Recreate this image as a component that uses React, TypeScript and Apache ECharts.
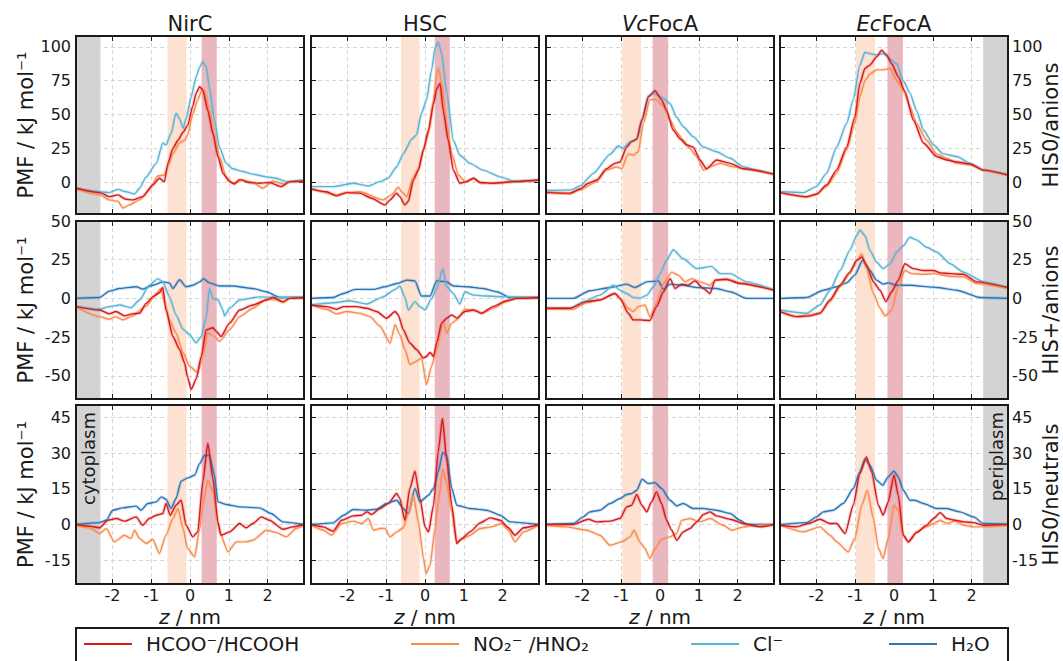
import React, { useEffect, useRef } from 'react';
import * as echarts from 'echarts';

// ---------------- data ----------------
const panelTitles = ['NirC', 'HSC', 'VcFocA', 'EcFocA'];
const rowNames = ['HIS0/anions', 'HIS+/anions', 'HIS0/neutrals'];
const yAxisName = 'PMF / kJ mol⁻¹';
const xAxisName = 'z / nm';
const zTicks = [-2, -1, 0, 1, 2];
const zRange = [-2.94, 2.94];
const yTicks = [[0, 25, 50, 75, 100], [-50, -25, 0, 25, 50], [-15, 0, 15, 30, 45]];
const yRanges = [[-23.4, 108], [-65, 50], [-25, 50.2]];
const orangeBand = [[-0.58, -0.09], [-0.62, -0.14], [-0.97, -0.49], [-0.98, -0.49]];
const redBand = [[0.3, 0.69], [0.25, 0.64], [-0.19, 0.21], [-0.17, 0.23]];
const cytoplasmBand = [-2.94, -2.31];
const periplasmBand = [2.3, 2.94];
const legendNames = ['HCOO⁻/HCOOH', 'NO₂⁻ /HNO₂', 'Cl⁻', 'H₂O'];

// Row 1: HIS0 / anions
const nircHis0Cl = [[-2.94,-4.4],[-2.33,-7],[-2.08,-7.6],[-1.86,-5.2],[-1.65,-7],[-1.43,-8.6],[-1.3,-4.4],[-1.13,4],[-0.87,14],[-0.7,29],[-0.62,27.5],[-0.49,36],[-0.36,51],[-0.27,47],[-0.18,40],[-0.1,47],[0.03,63],[0.16,78],[0.25,85],[0.33,89],[0.42,85],[0.5,70],[0.63,46],[0.76,26],[0.93,14],[1.1,10],[1.36,8],[1.62,6],[1.97,4],[2.22,3],[2.48,0.5],[2.94,1.7]];
const nircHis0Hcoo = [[-2.94,-4.4],[-2.33,-7.6],[-2.08,-10.6],[-1.86,-9.3],[-1.65,-12.5],[-1.48,-13],[-1.22,-10.6],[-0.96,-2],[-0.79,3],[-0.66,0.5],[-0.57,14],[-0.44,25],[-0.31,31],[-0.18,37],[-0.06,42],[0.07,56],[0.16,66],[0.25,70.5],[0.33,68],[0.46,53],[0.59,36],[0.72,19],[0.85,6.6],[1.02,0.5],[1.15,-1.2],[1.28,2],[1.54,-0.2],[1.79,-0.7],[2.05,-0.2],[2.35,-3.2],[2.57,0.5],[2.94,1]];
const nircHis0No2 = [[-2.94,-5],[-2.33,-9.3],[-2.08,-13],[-1.86,-14],[-1.73,-19],[-1.56,-16.7],[-1.3,-13],[-1.05,-5.6],[-0.83,4.7],[-0.66,5.4],[-0.57,11.5],[-0.44,21],[-0.27,29],[-0.14,31],[-0.06,35],[0.07,50],[0.2,61],[0.31,68.5],[0.37,68],[0.5,53],[0.63,35],[0.76,19],[0.93,4],[1.1,-0.7],[1.32,1.7],[1.62,-0.2],[1.88,-4.4],[2.14,1],[2.4,-1.2],[2.66,0.5],[2.94,0.5]];
const hscHis0Cl = [[-2.94,-3.2],[-2.37,-3.2],[-1.85,-0.7],[-1.46,-2.7],[-1.16,0.5],[-0.95,3],[-0.73,11.5],[-0.56,21],[-0.34,32],[-0.22,35],[-0.09,51],[0.04,61],[0.17,83],[0.26,99],[0.34,103.7],[0.43,95],[0.56,66],[0.73,31],[0.9,20],[1.16,14],[1.5,9],[1.94,4],[2.28,1],[2.94,1.7]];
const hscHis0Hcoo = [[-2.94,-5],[-2.54,-7],[-2.28,-10],[-2.02,-7.6],[-1.68,-8],[-1.38,-11.8],[-1.03,-16.7],[-0.9,-13],[-0.73,-8],[-0.65,-10.6],[-0.52,-16.7],[-0.43,-14],[-0.3,1.7],[-0.17,9],[-0.04,24],[0.09,38.6],[0.22,58],[0.3,69],[0.39,73],[0.47,53],[0.6,31],[0.73,9],[0.9,-0.7],[1.08,0.5],[1.25,3],[1.42,-0.2],[1.76,-0.7],[2.28,0.5],[2.94,1.7]];
const hscHis0No2 = [[-2.94,-4.4],[-2.28,-9.3],[-2.02,-7.6],[-1.68,-7],[-1.08,-13],[-0.86,-9.3],[-0.69,-3.7],[-0.6,-7],[-0.47,-10.6],[-0.3,4],[-0.17,10],[-0.04,24],[0.09,36],[0.22,61],[0.3,80],[0.35,84],[0.43,73],[0.56,43.5],[0.69,21],[0.86,5.4],[1.03,0.5],[1.25,3],[1.46,-0.7],[1.76,-0.7],[2.37,0.5],[2.94,1.7]];
const vcHis0Cl = [[-2.94,-6],[-2.28,-5.6],[-2.06,-2.7],[-1.72,6.6],[-1.29,20.6],[-1.08,26.8],[-0.95,25],[-0.77,30],[-0.6,32],[-0.43,48],[-0.3,64],[-0.17,65.6],[-0.04,64],[0.09,62],[0.26,58],[0.43,48],[0.6,41],[0.86,33.7],[1.12,26],[1.46,22.6],[1.81,17.7],[2.15,11.5],[2.49,9],[2.94,6]];
const vcHis0Hcoo = [[-2.94,-7.6],[-2.32,-8],[-2.06,-5],[-1.85,-0.7],[-1.63,1.7],[-1.38,10],[-1.16,14],[-1.03,15],[-0.86,26],[-0.73,30],[-0.6,31.7],[-0.47,46],[-0.3,63],[-0.13,67.6],[0.04,61],[0.17,53],[0.34,38.6],[0.52,32],[0.69,27.5],[0.86,26],[1.03,16.5],[1.2,10],[1.46,16.5],[1.81,14],[2.15,10],[2.94,6]];
const vcHis0No2 = [[-2.94,-7],[-2.32,-8.6],[-2.06,-5.6],[-1.63,0.5],[-1.38,9],[-1.12,11.5],[-0.99,10],[-0.82,21],[-0.69,20],[-0.56,22.6],[-0.43,43.5],[-0.26,61],[-0.09,61],[0.09,56],[0.26,46],[0.43,37],[0.6,31],[0.77,25],[0.95,19],[1.12,9],[1.29,11.5],[1.55,14],[1.89,11.5],[2.24,9.5],[2.94,6]];
const ecHis0Cl = [[-2.94,-7],[-2.34,-7.6],[-2,-3.2],[-1.74,6.6],[-1.48,26],[-1.22,43.5],[-1.05,61],[-0.88,86.5],[-0.75,96],[-0.62,95],[-0.45,94],[-0.28,95],[-0.1,91],[0.07,87.5],[0.24,75],[0.41,66],[0.58,53],[0.76,38.6],[1.02,27.5],[1.27,21],[1.62,19],[1.96,14],[2.31,9],[2.94,5.4]];
const ecHis0Hcoo = [[-2.94,-7.6],[-2.25,-10.6],[-2,-8.8],[-1.74,-2],[-1.48,9],[-1.22,26],[-1.01,48],[-0.88,73],[-0.75,84],[-0.62,86.5],[-0.45,92.6],[-0.32,97.5],[-0.19,94],[-0.06,87.5],[0.11,78],[0.28,67],[0.5,46],[0.76,29],[1.1,19],[1.36,16.5],[1.62,15],[1.96,13.5],[2.31,9],[2.94,5.4]];
const ecHis0No2 = [[-2.94,-7.6],[-2.25,-11],[-2,-8.8],[-1.74,-3.2],[-1.48,6.6],[-1.22,24],[-1.01,43.5],[-0.88,63],[-0.75,75],[-0.62,80],[-0.45,83],[-0.28,83],[-0.1,84],[0.07,75],[0.24,68],[0.41,56],[0.58,43.5],[0.84,31],[1.1,21],[1.36,17.7],[1.62,14],[1.96,13],[2.31,9],[2.94,5.4]];

// Row 2: HIS+ / anions
const nircHisPH2o = [[-2.94,0],[-2.33,0.6],[-2.08,4.7],[-1.82,6.4],[-1.39,7.5],[-1.22,6],[-0.96,8.5],[-0.7,10.7],[-0.53,10],[-0.44,6.4],[-0.27,12],[-0.1,7.5],[0.07,8.5],[0.25,10.7],[0.35,12.8],[0.5,10],[0.76,8],[1.1,8],[1.62,6.4],[1.97,4.3],[2.31,0.6],[2.94,0.6]];
const nircHisPCl = [[-2.94,-5.3],[-2.33,-7],[-2.08,-5.3],[-1.82,-4.3],[-1.52,-6],[-1.3,-1],[-1.05,8.5],[-0.83,12.8],[-0.7,10.7],[-0.53,1],[-0.36,-10.7],[-0.18,-20],[-0.01,-23.5],[0.16,-28.8],[0.29,-24.6],[0.42,-11.8],[0.5,6.4],[0.59,0],[0.72,-1],[0.85,-7.5],[0.89,-11.3],[1.02,-6.4],[1.28,-1],[1.79,1],[2.4,0.6],[2.94,1]];
const nircHisPHcoo = [[-2.94,-5.3],[-2.33,-7.5],[-2.08,-10],[-1.91,-8.5],[-1.69,-11.3],[-1.48,-10],[-1.3,-9.6],[-1.13,-3.2],[-0.96,1],[-0.79,3.6],[-0.7,7],[-0.62,-7.5],[-0.44,-24.6],[-0.27,-33],[-0.14,-41.7],[-0.06,-51],[0.03,-58.8],[0.16,-52],[0.29,-37.4],[0.42,-20.3],[0.59,-19],[0.68,-21.4],[0.8,-24.6],[1.02,-16],[1.28,-7.5],[1.62,-4.3],[1.97,-1],[2.14,0.6],[2.4,-2.1],[2.57,0],[2.94,0.6]];
const nircHisPNo2 = [[-2.94,-5.6],[-2.33,-11.8],[-2.08,-13.5],[-1.91,-11.8],[-1.73,-13.9],[-1.48,-11.3],[-1.13,-5],[-0.87,3.2],[-0.75,6.4],[-0.66,-2],[-0.53,-13.9],[-0.36,-22.4],[-0.18,-35],[-0.01,-43.8],[0.2,-48],[0.33,-37.4],[0.46,-22.4],[0.63,-24.6],[0.76,-27.8],[1.02,-20.3],[1.28,-11.8],[1.62,-6.4],[1.97,-0.6],[2.23,-1],[2.4,-2.8],[2.57,0],[2.94,0.6]];
const hscHisPH2o = [[-2.94,0],[-2.37,0.6],[-2.1,3.2],[-1.8,5.8],[-1.33,5.8],[-1.03,7.5],[-0.73,9.6],[-0.47,11.8],[-0.26,11.3],[-0.09,1.5],[0.13,1.5],[0.3,11.3],[0.56,10.7],[0.73,8],[1.08,7.5],[1.5,6.4],[1.85,4.3],[2.19,0.6],[2.94,0.6]];
const hscHisPCl = [[-2.94,-4.3],[-2.37,-2.8],[-1.94,-1.5],[-1.5,-3.6],[-1.08,1],[-0.77,5.8],[-0.65,8],[-0.52,1],[-0.43,-7.5],[-0.26,-2.1],[-0.13,-5.3],[0,-7.5],[0.17,0],[0.3,6.4],[0.46,19],[0.56,7.5],[0.73,3.2],[0.9,-3.6],[1.03,4.3],[1.25,2.1],[1.59,1.5],[2.1,1],[2.94,0.6]];
const hscHisPHcoo = [[-2.94,-4.3],[-2.54,-5.3],[-2.28,-7],[-2.1,-5.3],[-1.76,-5.3],[-1.5,-6.4],[-1.25,-8.5],[-0.99,-12.8],[-0.77,-8.5],[-0.69,-10.7],[-0.56,-20.3],[-0.39,-28.8],[-0.22,-33],[-0.04,-38.5],[0.04,-37.5],[0.13,-35],[0.22,-37.5],[0.3,-28.8],[0.43,-16],[0.56,-12.8],[0.69,-10.7],[0.82,-12.8],[1.03,-8.5],[1.25,-7.5],[1.46,-9.6],[1.76,-5.3],[2.1,-1.5],[2.37,0],[2.94,0.6]];
const hscHisPNo2 = [[-2.94,-4.3],[-2.54,-7],[-2.28,-10],[-2.02,-8.5],[-1.68,-9.6],[-1.42,-11.8],[-1.16,-18],[-0.9,-28.8],[-0.77,-17],[-0.65,-23.5],[-0.52,-33],[-0.39,-42.7],[-0.22,-40.6],[-0.09,-38.5],[0.04,-55.6],[0.17,-43.8],[0.3,-33],[0.46,-15],[0.56,-22.4],[0.69,-16],[0.82,-13.9],[1.03,-7],[1.25,-7.5],[1.46,-9.6],[1.76,-6.4],[2.1,-2.1],[2.37,0],[2.94,0.6]];
const vcHisPH2o = [[-2.94,0],[-2.24,0],[-1.81,4.9],[-1.29,7],[-0.86,9.2],[-0.65,7],[-0.34,10.7],[-0.04,11.3],[0.09,5.8],[0.26,9.2],[0.6,8.5],[0.95,7],[1.46,6.4],[1.81,4.3],[2.24,0],[2.94,0]];
const vcHisPCl = [[-2.94,-6.4],[-2.32,-6.4],[-1.98,-2.1],[-1.55,2.1],[-1.2,8.5],[-1.03,5.3],[-0.86,3.2],[-0.69,0.6],[-0.52,0],[-0.34,2.1],[-0.17,7.5],[0,16],[0.17,24.6],[0.34,31.4],[0.6,25.6],[0.95,19.2],[1.33,20.7],[1.55,16],[1.81,16],[2.24,10.7],[2.94,5.3]];
const vcHisPHcoo = [[-2.94,-6.4],[-2.32,-6.4],[-1.89,-2.1],[-1.55,-1],[-1.16,3.2],[-1.03,0],[-0.82,-9.6],[-0.69,-13.9],[-0.52,-13.9],[-0.26,-14.3],[-0.09,-5.3],[0.09,4.3],[0.26,12.8],[0.39,6.4],[0.56,9.2],[0.73,8.5],[0.9,11.3],[1.12,6.4],[1.29,3.2],[1.42,11.8],[1.72,12.2],[2.06,9.6],[2.94,5.3]];
const vcHisPNo2 = [[-2.94,-7],[-2.24,-7],[-1.89,-2.8],[-1.55,-1],[-1.16,3.2],[-0.99,-1],[-0.82,-6.4],[-0.69,-8.5],[-0.56,-5.3],[-0.39,-4.3],[-0.26,-11.8],[-0.09,-3.2],[0.09,9.6],[0.3,17],[0.47,15],[0.65,10.7],[0.82,12.8],[1.03,10.7],[1.29,8.5],[1.42,11.8],[1.72,12.8],[2.06,10],[2.94,5.3]];
const ecHisPH2o = [[-2.94,0],[-2.25,0.6],[-1.82,5.3],[-1.48,7.5],[-1.22,10],[-1.01,15],[-0.81,24.6],[-0.62,18],[-0.45,11.8],[-0.28,9.2],[-0.15,10],[0.07,8.5],[0.41,8.5],[1.1,7],[1.62,5.3],[2.22,0.6],[2.94,0]];
const ecHisPCl = [[-2.94,-7.5],[-2.25,-9.6],[-1.91,-4.3],[-1.65,5.3],[-1.39,18],[-1.14,31],[-0.96,40.6],[-0.88,44.2],[-0.75,40.6],[-0.62,31],[-0.45,23.5],[-0.28,19.2],[-0.1,22.4],[0.07,30],[0.24,34],[0.41,39.5],[0.58,37.8],[0.84,33],[1.1,30],[1.45,22.4],[1.79,17],[2.31,10.7],[2.94,7]];
const ecHisPHcoo = [[-2.94,-8.5],[-2.51,-11.8],[-2.17,-11.3],[-1.91,-9.6],[-1.65,-1],[-1.39,8.5],[-1.14,17],[-0.96,24.6],[-0.83,26.7],[-0.71,21.4],[-0.53,10.7],[-0.36,5.3],[-0.21,-2.1],[-0.06,4.3],[0.11,11.8],[0.28,22.4],[0.5,19.2],[0.76,18],[1.02,18],[1.19,16.5],[1.45,16],[1.79,15.6],[2.13,10.7],[2.94,7]];
const ecHisPNo2 = [[-2.94,-8.5],[-2.51,-11.8],[-1.91,-9.6],[-1.65,-2.1],[-1.39,7.5],[-1.14,16],[-0.96,24.6],[-0.83,28.8],[-0.71,19.2],[-0.53,3.2],[-0.36,-6.4],[-0.23,-11.3],[-0.06,-7.5],[0.11,7.5],[0.28,18],[0.46,16],[0.76,15.6],[1.02,16],[1.45,14.3],[1.79,13.9],[2.13,9.6],[2.94,6.4]];

// Row 3: HIS0 / neutrals
const nircNeuH2o = [[-2.94,0],[-2.33,0.8],[-2.16,1.8],[-1.99,6],[-1.73,7],[-1.39,7.7],[-1.26,6],[-1.09,8.8],[-0.87,9.5],[-0.74,11.6],[-0.62,10.6],[-0.49,6.7],[-0.36,10.9],[-0.23,18.2],[-0.06,19.6],[0.12,20.7],[0.25,25.6],[0.37,29],[0.5,29],[0.63,20.7],[0.72,9.5],[0.93,8.4],[1.28,7.4],[1.79,7],[2.09,4.6],[2.4,1.1],[2.94,0]];
const nircNeuHcoo = [[-2.94,0],[-2.59,-0.7],[-2.33,-1.4],[-2.12,1.8],[-1.9,2.5],[-1.69,1.4],[-1.39,3.2],[-1.22,-0.3],[-1.05,2.5],[-0.87,3.9],[-0.7,4.6],[-0.62,8.8],[-0.51,3.9],[-0.36,8.1],[-0.23,10.2],[-0.1,-0.3],[0.07,-5.2],[0.2,-3.1],[0.33,17.9],[0.46,34],[0.59,19.3],[0.72,1.1],[0.8,-4.5],[1.02,-3.1],[1.28,0.4],[1.45,-1.4],[1.62,0.4],[1.84,3.2],[2.05,1.8],[2.4,-2],[2.65,-1],[2.94,0]];
const nircNeuNo2 = [[-2.94,-0.3],[-2.59,-1.4],[-2.33,-3.8],[-2.16,-1.7],[-1.95,-7.3],[-1.69,-4.5],[-1.52,-5.9],[-1.43,-2.4],[-1.3,-5.9],[-1.13,-8],[-0.96,-6.2],[-0.79,-12.2],[-0.62,-4.5],[-0.44,2.5],[-0.31,6.7],[-0.18,-1.7],[-0.06,-10.1],[0.12,-13.6],[0.25,-1.7],[0.33,8.1],[0.46,18.6],[0.59,13.7],[0.76,-3.1],[0.98,-11.5],[1.19,-7.3],[1.45,-7.3],[1.62,-6.6],[1.97,-2.4],[2.23,-3.4],[2.48,-5.2],[2.74,-1.7],[2.94,-0.3]];
const hscNeuH2o = [[-2.94,0],[-2.37,0.7],[-2.1,3.9],[-1.85,6.3],[-1.5,6],[-1.25,6.4],[-0.99,8.8],[-0.73,10.2],[-0.56,6.7],[-0.43,4.6],[-0.26,15.1],[-0.13,9.5],[0.09,12.3],[0.22,15.1],[0.34,22.1],[0.46,30.3],[0.56,29],[0.69,15.1],[0.82,8.1],[1.16,6.7],[1.59,6],[1.94,3.9],[2.19,1.1],[2.94,0]];
const hscNeuHcoo = [[-2.94,0],[-2.62,-1],[-2.37,-2.8],[-2.15,1.8],[-1.85,3.6],[-1.63,3.9],[-1.5,5.3],[-1.38,4.2],[-1.16,6.7],[-0.95,8.8],[-0.73,13],[-0.65,10.9],[-0.52,1.8],[-0.39,15.1],[-0.26,22.4],[-0.13,10.9],[0,-1],[0.09,-3.1],[0.22,8.1],[0.34,30.5],[0.45,44.5],[0.56,27],[0.69,8.1],[0.82,-8],[0.95,-5.9],[1.16,-3.1],[1.42,0.7],[1.68,2.8],[1.94,1.8],[2.15,-1.4],[2.32,-4.5],[2.54,-1.4],[2.94,0]];
const hscNeuNo2 = [[-2.94,-0.3],[-2.62,-2.4],[-2.41,-4.5],[-2.15,0.4],[-1.85,1.4],[-1.63,0.4],[-1.46,2.5],[-1.33,-2.4],[-1.16,-1.7],[-1.03,-1.7],[-0.9,-5.2],[-0.73,-3.1],[-0.56,-1.4],[-0.43,4.6],[-0.3,12.3],[-0.17,1.1],[-0.04,-14.3],[0.03,-20.6],[0.13,-17.1],[0.26,-1.7],[0.34,9.5],[0.46,23.2],[0.56,17.2],[0.69,5.3],[0.82,-7.3],[0.99,-5.9],[1.16,-4.5],[1.42,-1.7],[1.72,-1],[1.98,0.4],[2.15,-2.4],[2.32,-7.3],[2.54,-3.1],[2.94,-0.3]];
const vcNeuH2o = [[-2.94,0],[-2.24,0.4],[-1.98,3.2],[-1.81,5.3],[-1.55,6],[-1.29,8.8],[-1.03,10.9],[-0.86,12.6],[-0.73,13],[-0.6,14.4],[-0.46,19],[-0.3,17.2],[-0.13,17.6],[0.04,15.1],[0.26,10.2],[0.43,7.8],[0.6,8.8],[0.86,6.7],[1.12,6.7],[1.46,6],[1.81,4.6],[2.06,1.8],[2.24,0],[2.94,0]];
const vcNeuHcoo = [[-2.94,0],[-2.24,0],[-1.85,2.2],[-1.63,1.1],[-1.29,1.4],[-1.03,2.5],[-0.86,7.4],[-0.73,8.1],[-0.6,12.6],[-0.47,8.1],[-0.34,5.3],[-0.22,9.5],[-0.09,13.7],[0.04,8.8],[0.17,1.8],[0.3,-2.4],[0.43,-6.6],[0.6,-3.1],[0.77,-1.7],[0.95,1.1],[1.12,4.2],[1.29,5.3],[1.46,3.6],[1.81,2.2],[2.15,0.4],[2.58,-1],[2.94,0]];
const vcNeuNo2 = [[-2.94,-0.3],[-2.41,-1],[-1.89,-2.4],[-1.55,-4.5],[-1.29,-8.7],[-0.99,-7.3],[-0.77,-5.2],[-0.67,-2.4],[-0.52,-7.3],[-0.39,-10.1],[-0.26,-14.3],[-0.13,-10.1],[0.04,-6.2],[0.26,-5.2],[0.43,-3.8],[0.56,1.8],[0.77,2.5],[1.03,1.1],[1.29,2.5],[1.63,-0.3],[1.85,-2.4],[2.15,-1],[2.58,-0.3],[2.94,0]];
const ecNeuH2o = [[-2.94,0],[-2.25,0.8],[-2,3.2],[-1.82,5.3],[-1.57,6],[-1.31,8.8],[-1.05,15.1],[-0.88,22.1],[-0.75,27.5],[-0.62,24.9],[-0.45,18.6],[-0.29,16.5],[-0.15,20],[0,22.4],[0.11,20],[0.24,14.4],[0.41,10.2],[0.54,10.2],[0.76,8.8],[1.1,6.7],[1.36,6.7],[1.7,5.3],[2.05,3.2],[2.31,0.4],[2.94,0]];
const ecNeuHcoo = [[-2.94,-0.3],[-2.51,-1],[-2.21,0.4],[-1.91,2.2],[-1.65,0.4],[-1.48,0.4],[-1.26,-3.8],[-1.05,8.1],[-0.88,21.4],[-0.71,28.4],[-0.58,22.1],[-0.4,8.1],[-0.28,3.9],[-0.15,9.5],[0,20.7],[0.11,12.3],[0.24,-4.5],[0.37,-7.3],[0.58,-3.4],[0.84,-0.3],[1.02,2.5],[1.19,5],[1.36,2.5],[1.57,1.8],[1.79,1.1],[2.05,0.8],[2.31,-0.3],[2.94,0]];
const ecNeuNo2 = [[-2.94,-0.3],[-2.34,-3.1],[-1.91,-1],[-1.65,-4.5],[-1.48,-7.3],[-1.18,-11.5],[-1.01,-5.9],[-0.83,8.1],[-0.69,14.4],[-0.53,2.5],[-0.4,-10.1],[-0.28,-14.3],[-0.15,-5.9],[0,8.1],[0.11,6],[0.24,-4.5],[0.37,-7.3],[0.58,-3.1],[0.84,-1],[1.02,0.4],[1.19,1.8],[1.36,0.4],[1.57,1.4],[1.79,-0.3],[2.05,-1],[2.31,-1],[2.94,-0.3]];

const panelData: any[][] = [
  [
    { cl: nircHis0Cl, no2: nircHis0No2, hcoo: nircHis0Hcoo },
    { cl: hscHis0Cl, no2: hscHis0No2, hcoo: hscHis0Hcoo },
    { cl: vcHis0Cl, no2: vcHis0No2, hcoo: vcHis0Hcoo },
    { cl: ecHis0Cl, no2: ecHis0No2, hcoo: ecHis0Hcoo },
  ],
  [
    { h2o: nircHisPH2o, cl: nircHisPCl, no2: nircHisPNo2, hcoo: nircHisPHcoo },
    { h2o: hscHisPH2o, cl: hscHisPCl, no2: hscHisPNo2, hcoo: hscHisPHcoo },
    { h2o: vcHisPH2o, cl: vcHisPCl, no2: vcHisPNo2, hcoo: vcHisPHcoo },
    { h2o: ecHisPH2o, cl: ecHisPCl, no2: ecHisPNo2, hcoo: ecHisPHcoo },
  ],
  [
    { h2o: nircNeuH2o, no2: nircNeuNo2, hcoo: nircNeuHcoo },
    { h2o: hscNeuH2o, no2: hscNeuNo2, hcoo: hscNeuHcoo },
    { h2o: vcNeuH2o, no2: vcNeuNo2, hcoo: vcNeuHcoo },
    { h2o: ecNeuH2o, no2: ecNeuNo2, hcoo: ecNeuHcoo },
  ],
];

// ---------------- layout / style ----------------
const FONT = 'DejaVu Sans';
const INK = '#1a1a1a';
const COLORS: Record<string, string> = { hcoo: '#d7191c', no2: '#f98c4f', cl: '#58b5d6', h2o: '#2a76b8' };
const SPECIES_ORDER = ['h2o', 'cl', 'no2', 'hcoo'];
const GRID_LEFT = [76, 311, 546, 780];
const GRID_TOP = [36, 221, 405];
const GRID_W = 228;
const GRID_H = [178, 178, 179];

function buildOption() {
  const grid: any[] = [];
  const xAxis: any[] = [];
  const yAxis: any[] = [];
  const series: any[] = [];
  const graphic: any[] = [];

  const tick = (vals: number[]) => ({
    show: true, inside: true, length: 5, customValues: vals,
    lineStyle: { color: INK, width: 1 },
  });
  const split = { show: true, lineStyle: { color: '#d6d6d6', type: [4, 3], width: 1 } };
  const noLine = { show: false, onZero: false };

  for (let r = 0; r < 3; r++) {
    for (let c = 0; c < 4; c++) {
      const gi = r * 4 + c;
      grid.push({ left: GRID_LEFT[c], top: GRID_TOP[r], width: GRID_W, height: GRID_H[r] });
      const xBase = { type: 'value', gridIndex: gi, min: zRange[0], max: zRange[1], axisLine: noLine };
      xAxis.push({
        ...xBase, position: 'bottom',
        axisTick: tick(zTicks),
        axisLabel: { show: r === 2, customValues: zTicks, fontSize: 16, lineHeight: 15, fontFamily: FONT, color: INK, margin: 4 },
        splitLine: split,
      });
      xAxis.push({
        ...xBase, position: 'top',
        axisTick: tick(zTicks), axisLabel: { show: false }, splitLine: { show: false },
      });
      const yBase = { type: 'value', gridIndex: gi, min: yRanges[r][0], max: yRanges[r][1], axisLine: noLine };
      yAxis.push({
        ...yBase, position: 'left',
        axisTick: tick(yTicks[r]),
        axisLabel: { show: c === 0, customValues: yTicks[r], fontSize: 16, fontFamily: FONT, color: INK, margin: 5 },
        splitLine: split,
      });
      yAxis.push({
        ...yBase, position: 'right',
        axisTick: tick(yTicks[r]),
        axisLabel: { show: c === 3, customValues: yTicks[r], fontSize: 16, fontFamily: FONT, color: INK, margin: 4 },
        splitLine: { show: false },
      });

      const bands: any[] = [];
      if (c === 0) bands.push([{ xAxis: cytoplasmBand[0], itemStyle: { color: '#d3d3d3' } }, { xAxis: cytoplasmBand[1] }]);
      if (c === 3) bands.push([{ xAxis: periplasmBand[0], itemStyle: { color: '#d3d3d3' } }, { xAxis: periplasmBand[1] }]);
      bands.push([{ xAxis: orangeBand[c][0], itemStyle: { color: '#fde2d1' } }, { xAxis: orangeBand[c][1] }]);
      bands.push([{ xAxis: redBand[c][0], itemStyle: { color: '#ebb7be' } }, { xAxis: redBand[c][1] }]);
      series.push({
        type: 'line', xAxisIndex: 2 * gi, yAxisIndex: 2 * gi, data: [], silent: true, z: 1,
        markArea: { silent: true, data: bands },
      });

      const pd = panelData[r][c];
      for (const key of SPECIES_ORDER) {
        if (!pd[key]) continue;
        series.push({
          type: 'line', xAxisIndex: 2 * gi, yAxisIndex: 2 * gi, data: pd[key], showSymbol: false, symbol: 'none',
          smooth: 0.2, smoothMonotone: 'x',
          silent: true, z: 3, lineStyle: { color: COLORS[key], width: 3.4, opacity: 0.2 },
        });
        series.push({
          type: 'line', xAxisIndex: 2 * gi, yAxisIndex: 2 * gi, data: pd[key], showSymbol: false, symbol: 'none',
          smooth: 0.2, smoothMonotone: 'x',
          silent: true, z: 4, lineStyle: { color: COLORS[key], width: 1.4 },
        });
      }

      graphic.push({
        type: 'rect', z: 100, silent: true,
        shape: { x: GRID_LEFT[c], y: GRID_TOP[r], width: GRID_W, height: GRID_H[r] },
        style: { fill: 'none', stroke: INK, lineWidth: 2 },
      });
    }
  }

  // column titles and x-axis names
  for (let c = 0; c < 4; c++) {
    const cx = GRID_LEFT[c] + GRID_W / 2;
    const t = panelTitles[c];
    const italicPart = t.startsWith('Vc') || t.startsWith('Ec') ? t.slice(0, 2) : '';
    const rest = italicPart ? t.slice(2) : t;
    graphic.push({
      type: 'text', x: cx, y: 24, z: 100,
      style: {
        text: (italicPart ? `{i|${italicPart}}` : '') + `{n|${rest}}`,
        rich: {
          i: { fontStyle: 'italic', fontSize: 21, fontFamily: FONT, fill: INK },
          n: { fontSize: 21, fontFamily: FONT, fill: INK },
        },
        font: `21px ${FONT}`, fill: INK, textAlign: 'center', textVerticalAlign: 'middle',
      },
    });
    const xn = xAxisName.split(' ');
    graphic.push({
      type: 'text', x: cx, y: 617, z: 100,
      style: {
        text: `{i|${xn[0]}}{n| ${xn.slice(1).join(' ')}}`,
        rich: {
          i: { fontStyle: 'italic', fontSize: 20, lineHeight: 18, fontFamily: FONT, fill: INK },
          n: { fontSize: 20, lineHeight: 18, fontFamily: FONT, fill: INK },
        },
        font: `20px ${FONT}`, lineHeight: 18, fill: INK, textAlign: 'center', textVerticalAlign: 'middle',
      },
    });
  }

  // row labels
  for (let r = 0; r < 3; r++) {
    const cy = GRID_TOP[r] + GRID_H[r] / 2;
    graphic.push({
      type: 'text', x: 26, y: cy, rotation: Math.PI / 2, z: 100,
      style: { text: yAxisName, font: `21px ${FONT}`, fill: INK, textAlign: 'center', textVerticalAlign: 'middle' },
    });
    graphic.push({
      type: 'text', x: 1051, y: cy, rotation: Math.PI / 2, z: 100,
      style: { text: rowNames[r], font: `21px ${FONT}`, fill: INK, textAlign: 'center', textVerticalAlign: 'middle' },
    });
  }

  // compartment labels
  graphic.push({
    type: 'text', x: 88, y: 412, rotation: Math.PI / 2, z: 100,
    style: { text: 'cytoplasm', font: `18px ${FONT}`, fill: INK, textAlign: 'right', textVerticalAlign: 'middle' },
  });
  graphic.push({
    type: 'text', x: 996, y: 412, rotation: Math.PI / 2, z: 100,
    style: { text: 'periplasm', font: `18px ${FONT}`, fill: INK, textAlign: 'right', textVerticalAlign: 'middle' },
  });

  // legend
  graphic.push({
    type: 'rect', z: 100, shape: { x: 76, y: 628, width: 932, height: 44 },
    style: { fill: '#fff', stroke: INK, lineWidth: 2 },
  });
  const legendLineX = [84, 411, 691, 889];
  const legendKeys = ['hcoo', 'no2', 'cl', 'h2o'];
  for (let i = 0; i < 4; i++) {
    graphic.push({
      type: 'line', z: 101, shape: { x1: legendLineX[i], y1: 644, x2: legendLineX[i] + 48, y2: 644 },
      style: { stroke: COLORS[legendKeys[i]], lineWidth: 2 },
    });
    graphic.push({
      type: 'text', z: 101, x: legendLineX[i] + 62, y: 644,
      style: { text: legendNames[i], font: `20px ${FONT}`, fill: INK, textAlign: 'left', textVerticalAlign: 'middle' },
    });
  }

  return {
    animation: false,
    backgroundColor: '#fff',
    grid, xAxis, yAxis, series, graphic,
  };
}

export default function App() {
  const ref = useRef<HTMLDivElement>(null);
  useEffect(() => {
    if (!ref.current) return;
    const chart = echarts.init(ref.current, undefined, { renderer: 'svg' });
    chart.setOption(buildOption() as any);
    return () => chart.dispose();
  }, []);
  return <div ref={ref} style={{ position: 'fixed', left: 0, top: 0, width: 1063, height: 661 }} />;
}
